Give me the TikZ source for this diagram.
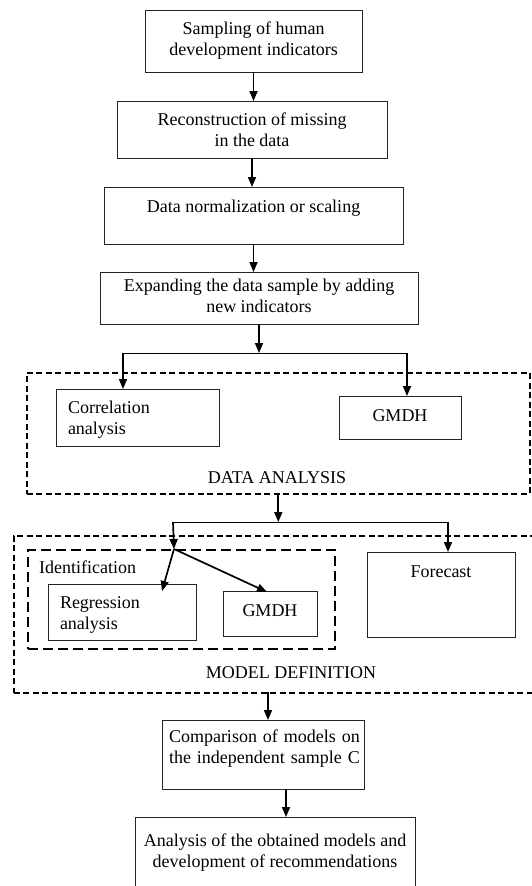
\documentclass[tikz,border=0pt]{standalone}
\usepackage{fontspec}
\setmainfont{Liberation Serif}
\usetikzlibrary{arrows.meta}

\begin{document}
\begin{tikzpicture}
    [x=1pt, y=-1pt,
      % style for the boxes
      op/.style={rectangle, draw=black!85, line width=0.8pt, inner sep=0pt, outer sep=0pt, anchor=north west, align=center, font=\fontsize{18}{21}\selectfont},
      % boxes with text on the left
      opl/.style={op, align=left, inner xsep=12pt},
      % dashed frames
      grp/.style={rectangle, draw, dash pattern=on 6pt off 3.5pt, line width=1.6pt, inner sep=0pt, anchor=north west},
      grp2/.style={grp, dash pattern=on 10pt off 5pt, line width=2pt},
      lbl/.style={inner sep=0pt, font=\fontsize{18}{21}\selectfont},
      % connectors
      arr/.style={-{Triangle[length=10pt,width=8pt]}, line width=1.7pt},
      fork/.style={line width=1pt}]
    \useasboundingbox (0,0) rectangle (531,886);

    % frames
    \node[grp, minimum width=503pt, minimum height=121pt] (dataan) at (26,372) {};
    \node[grp, minimum width=520pt, minimum height=157pt] (modeldef) at (13,535) {};
    \node[grp2, minimum width=307pt, minimum height=99pt] (ident) at (27,549) {};
    \node[lbl, anchor=base] (dalbl) at (277,483) {DATA ANALYSIS};
    \node[lbl, anchor=base] (mdlbl) at (291,678) {MODEL DEFINITION};
    \node[lbl, anchor=base west] (idlbl) at (39,573) {Identification};

    % boxes
    \node[op, minimum width=217pt, text height=45pt, text depth=17pt] (samp) at (145,10) {Sampling of human\\development indicators};
    \node[op, minimum width=270pt, text height=45pt, text depth=12pt] (recon) at (117,101) {Reconstruction of missing\\in the data};
    \node[op, minimum width=299pt, text height=25pt, text depth=32pt] (norm) at (104,187) {Data normalization or scaling};
    \node[op, minimum width=318pt, text height=40pt, text depth=12pt] (expand) at (100,272) {Expanding the data sample by adding\\new indicators};
    \node[opl, text width=139pt, text height=24pt, text depth=33pt] (corr) at (56,389) {Correlation\\analysis};
    \node[op, minimum width=122pt, text height=25pt, text depth=18pt] (gmdha) at (339,396) {GMDH};
    \node[opl, text width=124pt, text height=24pt, text depth=32pt] (regr) at (48,584) {Regression\\analysis};
    \node[op, minimum width=94pt, text height=25pt, text depth=20pt] (gmdhb) at (223,591) {GMDH};
    \node[op, minimum width=148pt, text height=25pt, text depth=60pt] (fcst) at (367,552) {Forecast};
    \node[opl, inner xsep=7pt, text width=188pt, text height=22pt, text depth=47pt] (comp) at (162,720) {\mbox{Comparison of models on}\\\mbox{the independent sample C}};
    \node[op, minimum width=280pt, text height=50pt, text depth=50pt] (final) at (135,817) {Analysis of the obtained models and\\development of recommendations};

    % branch points
    \coordinate (b1l) at (123,353);
    \coordinate (b1r) at (407,353);
    \coordinate (b2l) at (173,522);
    \coordinate (b2r) at (448,522);
    \coordinate (split) at (174,549);
    \coordinate (regin) at (162,591);
    \coordinate (gmdhin) at (267,592);
    \coordinate (mdout) at (268,692);
    \coordinate (cmpout) at (286,789);

    \draw[fork] (b1l) -- (b1r);
    \draw[fork] (b2l) -- (b2r);

    \path[arr]
      (samp.south) edge (samp.south |- recon.north)
      (recon.south) edge (recon.south |- norm.north)
      (norm.south) edge (norm.south |- expand.north)
      (expand.south) edge (expand.south |- b1l)
      (b1l) edge (b1l |- corr.north)
      (b1r) edge (b1r |- gmdha.north)
      (dataan.south) edge (dataan.south |- b2l)
      (b2l) edge (split)
      (split) edge (regin)
      (split) edge (gmdhin)
      (b2r) edge (b2r |- fcst.north)
      (mdout) edge (mdout |- comp.north)
      (cmpout) edge (cmpout |- final.north);
\end{tikzpicture}
\end{document}
